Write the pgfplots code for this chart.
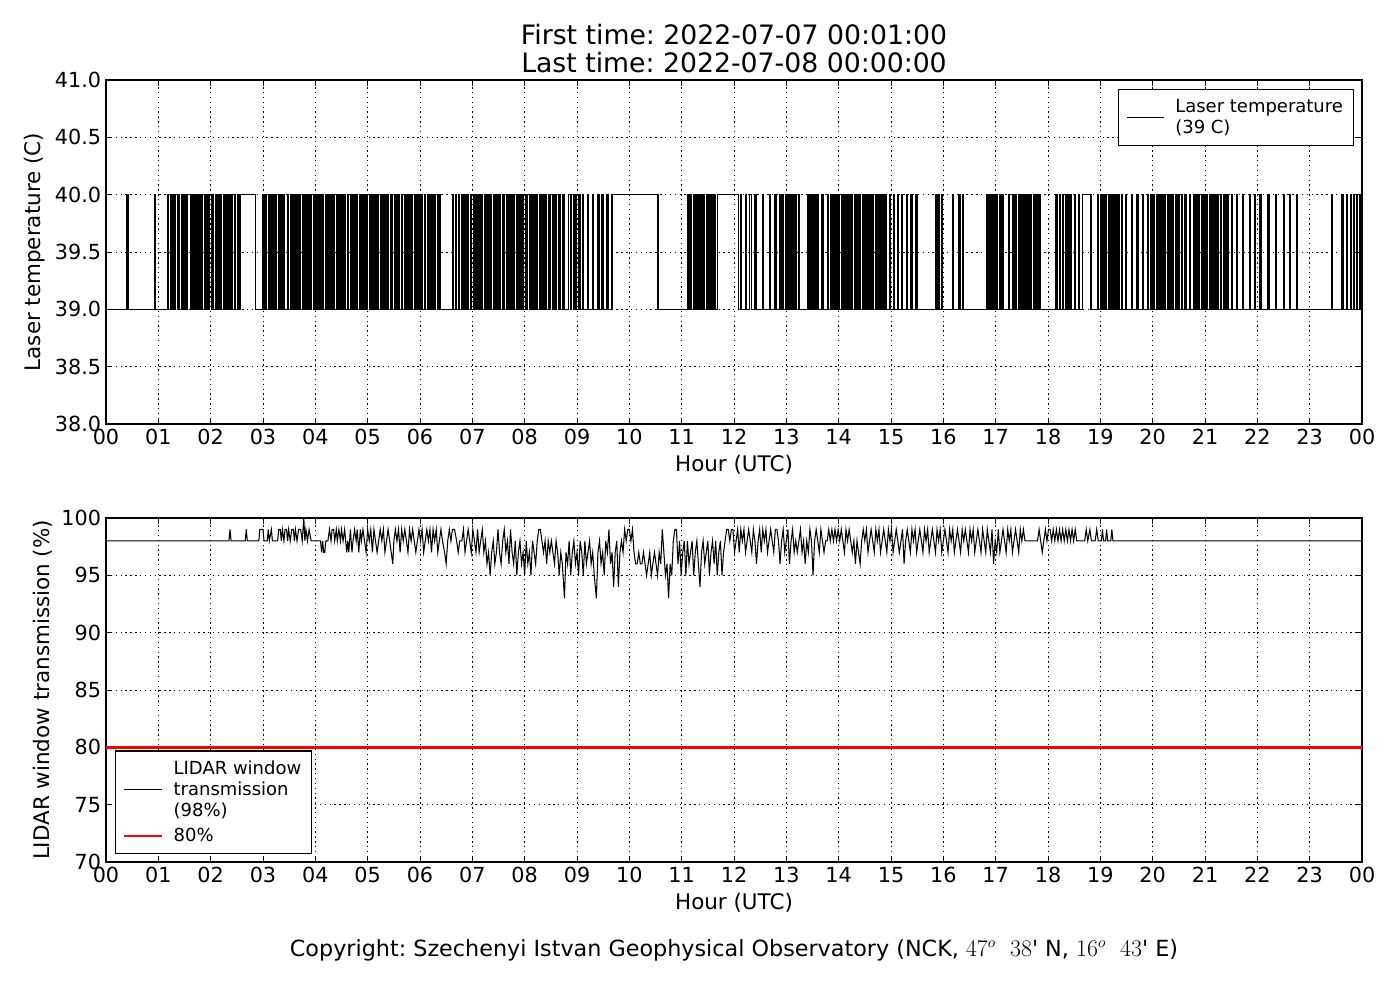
\documentclass[border=0pt]{standalone}
\usepackage{fontspec}
\setmainfont{DejaVu Sans}[Ligatures=TeXOff]
\usepackage{pgfplots}
\pgfplotsset{compat=1.18}
\frenchspacing
\begin{document}
\begin{tikzpicture}
\path[use as bounding box] (0,0) rectangle (1008bp,720bp);
\pgfplotsset{
 common/.style={
  scale only axis, width=904.32bp, height=247.68bp, anchor=south west,
  xmin=0, xmax=24, xtick={0,...,24},
  xticklabels={00,01,02,03,04,05,06,07,08,09,10,11,12,13,14,15,16,17,18,19,20,21,22,23,00},
  grid=major, major grid style={black, line width=0.5bp, dash pattern=on 1bp off 2.5bp},
  tick align=inside, tick pos=both, major tick length=4.5bp, tick style={black, line width=0.7bp},
  axis line style={line width=1bp},
  /pgf/number format/assume math mode=true,
  tick label style={font=\fontsize{15}{18}\selectfont},
  label style={font=\fontsize{15.5}{18}\selectfont},
  xlabel={Hour (UTC)},
  xlabel style={at={(axis description cs:0.5,0)}, anchor=center, yshift=-29.5bp},
  legend style={draw=black, line width=0.8bp, font=\fontsize{13}{15.2}\selectfont, cells={align=left},
    inner xsep=5.5bp, inner ysep=5bp, /tikz/every odd column/.append style={column sep=5.5bp}},
  legend cell align=left,
  legend image code/.code={\draw[##1] (0bp,0bp) -- (27bp,0bp);},
 }
}
\node[align=center, font=\fontsize{19.3}{20.2}\selectfont] at (528.5bp,684.7bp) {First time: 2022-07-07 00:01:00\\Last time: 2022-07-08 00:00:00};
\node[font=\fontsize{16.1}{18}\selectfont] at (528.5bp,36bp) {Copyright: Szechenyi Istvan Geophysical Observatory (NCK, $47^o$\ \ $38$' N, $16^o$\ \ $43$' E)};
\begin{axis}[common, at={(76.32bp,414.72bp)},
  ymin=38, ymax=41, ytick={38,38.5,...,41},
  yticklabel style={/pgf/number format/.cd, fixed, fixed zerofill, precision=1},
  ylabel={Laser temperature (C)},
  ylabel style={at={(axis description cs:-0.0565,0.5)}, anchor=center},
  legend style={at={(axis description cs:1,1)}, anchor=north east, xshift=-5.8bp, yshift=-6.5bp},
]
\addplot[black, line width=0.95bp, const plot] coordinates {
(0,39)(0.40,40)(0.42,39)(0.93,40)(0.95,39)
(1.17,40)(1.19,39)(1.23,40)(1.25,39)(1.28,40)(1.31,39)(1.33,40)(1.36,39)(1.38,40)(1.40,39)(1.44,40)(1.47,39)(1.49,40)(1.51,39)(1.55,40)(1.62,39)(1.64,40)(1.66,39)(1.69,40)(1.71,39)(1.73,40)(1.76,39)(1.78,40)(1.80,39)(1.83,40)(1.85,39)(1.88,40)(1.90,39)(1.92,40)(1.95,39)(1.98,40)(2.02,39)(2.04,40)(2.06,39)(2.09,40)(2.11,39)(2.14,40)(2.16,39)(2.19,40)(2.21,39)(2.24,40)(2.27,39)(2.29,40)(2.32,39)(2.35,40)(2.37,39)(2.40,40)(2.42,39)(2.46,40)(2.48,39)(2.51,40)(2.53,39)(2.56,40)(2.86,39)
(3.00,40)(3.02,39)(3.05,40)(3.07,39)(3.10,40)(3.13,39)(3.15,40)(3.18,39)(3.21,40)(3.23,39)(3.26,40)(3.29,39)(3.31,40)(3.33,39)(3.36,40)(3.40,39)(3.47,40)(3.49,39)(3.52,40)(3.54,39)(3.57,40)(3.59,39)(3.62,40)(3.64,39)(3.67,40)(3.70,39)(3.72,40)(3.75,39)(3.78,40)(3.80,39)(3.83,40)(3.85,39)(3.88,40)(3.91,39)(3.93,40)(3.96,39)(3.98,40)(4.01,39)(4.03,40)(4.06,39)(4.09,40)(4.11,39)(4.14,40)(4.16,39)(4.19,40)(4.21,39)(4.24,40)(4.27,39)(4.29,40)(4.32,39)(4.35,40)(4.37,39)(4.40,40)(4.43,39)(4.45,40)(4.48,39)(4.51,40)(4.53,39)(4.56,40)(4.58,39)(4.62,40)(4.64,39)(4.67,40)(4.70,39)(4.73,40)(4.75,39)(4.78,40)(4.80,39)(4.84,40)(4.86,39)(4.89,40)(4.92,39)(4.94,40)(4.97,39)
(5.00,40)(5.03,39)(5.05,40)(5.08,39)(5.10,40)(5.13,39)(5.16,40)(5.18,39)(5.21,40)(5.24,39)(5.26,40)(5.29,39)(5.32,40)(5.34,39)(5.37,40)(5.40,39)(5.43,40)(5.45,39)(5.48,40)(5.51,39)(5.53,40)(5.56,39)(5.59,40)(5.61,39)(5.64,40)(5.67,39)(5.70,40)(5.72,39)(5.75,40)(5.78,39)(5.81,40)(5.83,39)(5.86,40)(5.89,39)(5.92,40)(5.94,39)(5.97,40)(6.00,39)(6.03,40)(6.05,39)(6.08,40)(6.11,39)(6.14,40)(6.16,39)(6.19,40)(6.22,39)(6.25,40)(6.27,39)(6.30,40)(6.33,39)(6.36,40)(6.38,39)(6.62,40)(6.64,39)(6.68,40)(6.70,39)(6.74,40)(6.76,39)(6.80,40)(6.82,39)(6.86,40)(6.88,39)(6.91,40)(6.93,39)(6.97,40)(6.99,39)
(7.02,40)(7.04,39)(7.07,40)(7.10,39)(7.13,40)(7.15,39)(7.18,40)(7.20,39)(7.23,40)(7.26,39)(7.29,40)(7.32,39)(7.35,40)(7.37,39)(7.40,40)(7.43,39)(7.46,40)(7.48,39)(7.51,40)(7.54,39)(7.57,40)(7.59,39)(7.62,40)(7.65,39)(7.68,40)(7.70,39)(7.73,40)(7.76,39)(7.79,40)(7.81,39)(7.84,40)(7.87,39)(7.90,40)(7.92,39)(7.95,40)(7.98,39)(8.01,40)(8.03,39)(8.06,40)(8.09,39)(8.12,40)(8.14,39)(8.17,40)(8.20,39)(8.23,40)(8.25,39)(8.28,40)(8.31,39)(8.34,40)(8.36,39)(8.39,40)(8.42,39)(8.45,40)(8.47,39)(8.50,40)(8.53,39)(8.56,40)(8.58,39)(8.61,40)(8.64,39)(8.67,40)(8.69,39)(8.72,40)(8.75,39)
(8.84,40)(8.87,39)(8.90,40)(8.93,39)(8.96,40)(8.99,39)(9.03,40)(9.06,39)(9.10,40)(9.13,39)(9.20,40)(9.22,39)(9.30,40)(9.32,39)(9.40,40)(9.42,39)(9.48,40)(9.50,39)(9.57,40)(9.59,39)(9.67,40)(10.55,39)
(11.12,40)(11.14,39)(11.17,40)(11.19,39)(11.22,40)(11.24,39)(11.27,40)(11.29,39)(11.32,40)(11.34,39)(11.37,40)(11.39,39)(11.42,40)(11.44,39)(11.47,40)(11.49,39)(11.52,40)(11.54,39)(11.57,40)(11.59,39)(11.62,40)(11.64,39)(11.68,40)(12.08,39)
(12.12,40)(12.14,39)(12.22,40)(12.24,39)(12.30,40)(12.33,39)(12.40,40)(12.42,39)(12.55,40)(12.57,39)(12.68,40)(12.70,39)(12.78,40)(12.80,39)(12.88,40)(12.90,39)(12.93,40)(12.95,39)(12.98,40)(13.00,39)(13.03,40)(13.05,39)(13.08,40)(13.10,39)(13.13,40)(13.15,39)(13.18,40)(13.20,39)(13.23,40)(13.25,39)(13.40,40)(13.42,39)(13.45,40)(13.47,39)(13.50,40)(13.52,39)(13.55,40)(13.57,39)(13.60,40)(13.62,39)(13.68,40)(13.70,39)(13.78,40)(13.80,39)(13.85,40)(13.87,39)(13.90,40)(13.92,39)(13.95,40)(13.97,39)
(14.00,40)(14.02,39)(14.05,40)(14.07,39)(14.10,40)(14.12,39)(14.15,40)(14.17,39)(14.20,40)(14.22,39)(14.25,40)(14.27,39)(14.30,40)(14.32,39)(14.35,40)(14.37,39)(14.40,40)(14.42,39)(14.45,40)(14.47,39)(14.50,40)(14.52,39)(14.55,40)(14.57,39)(14.60,40)(14.62,39)(14.65,40)(14.67,39)(14.70,40)(14.72,39)(14.75,40)(14.77,39)(14.80,40)(14.82,39)(14.85,40)(14.87,39)(14.90,40)(14.92,39)(14.97,40)(14.99,39)(15.05,40)(15.07,39)(15.12,40)(15.14,39)(15.20,40)(15.22,39)(15.30,40)(15.32,39)(15.38,40)(15.40,39)(15.48,40)(15.50,39)
(15.85,40)(15.87,39)(15.90,40)(15.92,39)(15.96,40)(15.98,39)(16.18,40)(16.20,39)(16.30,40)(16.32,39)(16.36,40)(16.38,39)(16.82,40)(16.84,39)(16.87,40)(16.89,39)(16.92,40)(16.94,39)(16.97,40)(16.99,39)(17.02,40)(17.04,39)(17.07,40)(17.09,39)(17.12,40)(17.14,39)(17.25,40)(17.27,39)(17.33,40)(17.35,39)(17.38,40)(17.40,39)(17.43,40)(17.45,39)(17.48,40)(17.50,39)(17.52,40)(17.54,39)(17.57,40)(17.59,39)(17.62,40)(17.64,39)(17.67,40)(17.69,39)(17.72,40)(17.74,39)(17.77,40)(17.79,39)(17.83,40)(17.85,39)
(18.15,40)(18.17,39)(18.22,40)(18.24,39)(18.28,40)(18.30,39)(18.33,40)(18.35,39)(18.38,40)(18.40,39)(18.43,40)(18.45,39)(18.50,40)(18.52,39)(18.58,40)(18.60,39)(18.66,40)(18.82,39)(18.95,40)(18.97,39)(19.00,40)(19.02,39)(19.05,40)(19.07,39)(19.10,40)(19.12,39)(19.15,40)(19.17,39)(19.20,40)(19.22,39)(19.25,40)(19.27,39)(19.30,40)(19.32,39)(19.35,40)(19.37,39)(19.40,40)(19.42,39)(19.48,40)(19.50,39)(19.60,40)(19.62,39)(19.70,40)(19.72,39)(19.80,40)(19.82,39)(19.90,40)(19.92,39)(19.97,40)(19.99,39)
(20.02,40)(20.04,39)(20.08,40)(20.10,39)(20.13,40)(20.15,39)(20.18,40)(20.20,39)(20.23,40)(20.25,39)(20.28,40)(20.30,39)(20.33,40)(20.35,39)(20.38,40)(20.40,39)(20.43,40)(20.45,39)(20.48,40)(20.50,39)(20.55,40)(20.57,39)(20.62,40)(20.64,39)(20.70,40)(20.72,39)(20.78,40)(20.80,39)(20.83,40)(20.85,39)(20.88,40)(20.90,39)(20.93,40)(20.95,39)(20.98,40)(21.00,39)(21.03,40)(21.05,39)(21.08,40)(21.10,39)(21.13,40)(21.15,39)(21.18,40)(21.20,39)(21.23,40)(21.25,39)(21.30,40)(21.32,39)(21.36,40)(21.38,39)(21.42,40)(21.44,39)(21.50,40)(21.52,39)(21.60,40)(21.62,39)(21.72,40)(21.74,39)(21.85,40)(21.87,39)(21.95,40)(21.97,39)
(22.05,40)(22.07,39)(22.20,40)(22.22,39)(22.35,40)(22.37,39)(22.50,40)(22.52,39)(22.62,40)(22.64,39)(22.75,40)(22.77,39)(23.42,40)(23.44,39)(23.62,40)(23.64,39)(23.70,40)(23.72,39)(23.78,40)(23.80,39)(23.84,40)(23.86,39)(23.90,40)(23.92,39)(23.95,40)(23.97,39)(24,39)
};
\addlegendentry{Laser temperature\\(39 C)}
\end{axis}
\begin{axis}[common, at={(76.32bp,99.36bp)},
  ymin=70, ymax=100, ytick={70,75,...,100},
  ylabel={LIDAR window transmission (\%)},
  ylabel style={at={(axis description cs:-0.0502,0.5)}, anchor=center},
  legend style={at={(axis description cs:0,0)}, anchor=south west, xshift=6.5bp, yshift=5.8bp, row sep=3bp},
]
\addplot[black, line width=0.75bp] coordinates {
(0,98)(2.35,98)(2.37,99)(2.39,98)(2.66,98)(2.68,99)(2.70,98)(2.92,98)(2.94,99)(3.00,99)(3.02,98)(3.08,98)(3.10,99)(3.12,98)(3.16,99)(3.18,98)(3.28,98)(3.30,99)(3.33,99)(3.35,98)(3.37,99)(3.40,98)(3.42,99)(3.45,99)(3.47,98)(3.49,99)(3.52,98)(3.55,99)(3.58,99)(3.60,98)(3.62,99)(3.65,98)(3.68,99)(3.72,99)(3.75,98)(3.78,100)(3.80,98)(3.82,99)(3.85,98)(3.88,99)(3.92,98)(3.96,98)
(4.10,98)(4.12,97)(4.14,98)(4.16,97)(4.18,97)(4.20,98)(4.24,98)(4.27,99)(4.30,98)(4.32,99)(4.35,99)(4.37,98)(4.40,99)(4.42,98)(4.45,99)(4.48,98)(4.50,99)(4.53,98)(4.56,99)(4.60,97)(4.62,98)(4.64,97)(4.67,99)(4.70,97)(4.72,98)(4.75,99)(4.78,98)(4.80,99)(4.83,97)(4.86,99)(4.88,98)(4.91,99)(4.94,98)(4.97,97)
(5.00,99)(5.03,98)(5.06,99)(5.09,97)(5.12,99)(5.15,98)(5.18,97)(5.21,98)(5.24,99)(5.27,98)(5.30,99)(5.33,97)(5.36,98)(5.39,99)(5.42,98)(5.45,97)(5.48,96)(5.50,98)(5.53,99)(5.56,98)(5.59,99)(5.62,97)(5.65,99)(5.68,98)(5.71,99)(5.74,98)(5.77,97)(5.80,99)(5.83,98)(5.86,99)(5.89,98)(5.92,97)(5.95,98)(5.98,99)
(6.01,98)(6.04,99)(6.07,97)(6.10,98)(6.13,99)(6.16,98)(6.19,99)(6.22,97)(6.25,99)(6.28,98)(6.31,99)(6.34,97)(6.37,98)(6.40,99)(6.43,98)(6.47,97)(6.50,96)(6.53,98)(6.56,99)(6.59,98)(6.62,99)(6.66,99)(6.70,98)(6.73,97)(6.76,98)(6.80,98)(6.83,99)(6.86,97)(6.89,98)(6.92,99)(6.95,98)(6.98,97)
(7.01,99)(7.04,98)(7.07,97)(7.10,99)(7.13,97)(7.16,98)(7.19,99)(7.22,97)(7.25,98)(7.28,96)(7.31,97)(7.34,95)(7.37,97)(7.40,98)(7.43,96)(7.46,97)(7.49,99)(7.52,97)(7.55,96)(7.58,98)(7.61,99)(7.64,97)(7.67,98)(7.70,96)(7.73,99)(7.76,97)(7.79,96)(7.82,98)(7.85,95)(7.88,97)(7.91,98)(7.94,96)(7.97,97)
(8.00,95)(8.03,98)(8.06,96)(8.09,97)(8.12,95)(8.15,98)(8.18,97)(8.21,96)(8.24,98)(8.27,99)(8.30,99)(8.33,98)(8.36,97)(8.39,98)(8.42,96)(8.45,98)(8.48,97)(8.51,98)(8.54,97)(8.57,96)(8.60,98)(8.63,97)(8.66,95)(8.69,97)(8.72,96)(8.76,93)(8.79,97)(8.82,96)(8.85,98)(8.88,95)(8.91,97)(8.94,98)(8.97,96)
(9.00,97)(9.03,95)(9.06,98)(9.09,97)(9.12,95)(9.15,98)(9.18,96)(9.21,97)(9.24,98)(9.27,96)(9.30,97)(9.33,95)(9.37,93)(9.40,97)(9.43,98)(9.46,96)(9.49,97)(9.52,95)(9.55,98)(9.58,97)(9.61,99)(9.64,96)(9.67,97)(9.70,94)(9.73,97)(9.76,98)(9.79,94)(9.82,97)(9.85,98)(9.88,97)(9.91,99)(9.94,98)(9.97,99)
(10.00,99)(10.03,98)(10.06,99)(10.09,97)(10.12,96)(10.15,96)(10.18,97)(10.21,96)(10.24,96)(10.27,97)(10.30,96)(10.33,95)(10.36,96)(10.39,97)(10.42,95)(10.45,96)(10.48,97)(10.51,96)(10.54,95)(10.57,97)(10.60,96)(10.63,99)(10.66,97)(10.69,95)(10.72,96)(10.75,93)(10.78,96)(10.81,95)(10.84,98)(10.87,99)(10.90,99)(10.93,96)(10.96,98)(10.99,95)
(11.02,97)(11.05,98)(11.08,95)(11.11,98)(11.14,96)(11.17,97)(11.20,98)(11.23,95)(11.26,97)(11.29,98)(11.32,96)(11.35,94)(11.38,97)(11.41,98)(11.44,96)(11.47,97)(11.50,98)(11.53,95)(11.56,97)(11.59,98)(11.62,96)(11.65,98)(11.68,95)(11.71,97)(11.74,98)(11.77,95)(11.80,97)(11.83,98)(11.86,99)(11.89,99)(11.92,98)(11.95,99)(11.98,99)
(12.01,97)(12.04,98)(12.07,99)(12.10,97)(12.13,99)(12.16,98)(12.19,99)(12.22,97)(12.25,98)(12.28,99)(12.31,98)(12.34,97)(12.37,99)(12.40,98)(12.43,96)(12.46,98)(12.49,99)(12.52,97)(12.55,99)(12.58,98)(12.61,99)(12.64,97)(12.67,98)(12.70,99)(12.73,98)(12.76,97)(12.79,99)(12.82,99)(12.85,98)(12.88,96)(12.91,98)(12.94,99)(12.97,97)
(13.00,98)(13.03,99)(13.06,96)(13.09,98)(13.12,99)(13.15,97)(13.18,98)(13.21,97)(13.24,98)(13.27,99)(13.30,97)(13.33,98)(13.36,96)(13.39,98)(13.42,97)(13.45,99)(13.48,98)(13.51,95)(13.54,98)(13.57,99)(13.60,98)(13.63,97)(13.66,99)(13.69,98)(13.72,97)(13.75,98)(13.78,98)(13.81,99)(13.84,98)(13.87,99)(13.90,98)(13.93,99)(13.96,98)(13.99,99)
(14.02,98)(14.05,99)(14.08,98)(14.11,97)(14.14,99)(14.17,98)(14.20,99)(14.23,98)(14.26,97)(14.29,98)(14.32,96)(14.35,98)(14.38,97)(14.41,96)(14.44,98)(14.47,99)(14.50,98)(14.53,99)(14.56,97)(14.59,98)(14.62,99)(14.65,98)(14.68,97)(14.71,99)(14.74,98)(14.77,99)(14.80,97)(14.83,98)(14.86,99)(14.89,98)(14.92,97)(14.95,99)(14.98,98)
(15.01,99)(15.04,97)(15.07,98)(15.10,99)(15.13,98)(15.16,97)(15.19,98)(15.22,99)(15.25,96)(15.28,98)(15.31,99)(15.34,98)(15.37,97)(15.40,99)(15.43,98)(15.46,99)(15.49,97)(15.52,98)(15.55,99)(15.58,98)(15.61,97)(15.64,99)(15.67,98)(15.70,99)(15.73,97)(15.76,98)(15.79,99)(15.82,98)(15.85,97)(15.88,99)(15.91,98)(15.94,99)(15.97,97)
(16.00,98)(16.03,99)(16.06,98)(16.09,97)(16.12,99)(16.15,98)(16.18,99)(16.21,97)(16.24,98)(16.27,99)(16.30,98)(16.33,97)(16.36,99)(16.39,98)(16.42,99)(16.45,98)(16.48,97)(16.51,99)(16.54,98)(16.57,99)(16.60,97)(16.63,98)(16.66,99)(16.69,98)(16.72,97)(16.75,99)(16.78,98)(16.81,97)(16.84,99)(16.87,98)(16.90,97)(16.93,99)(16.96,96)(16.99,98)
(17.02,97)(17.05,99)(17.08,97)(17.11,98)(17.14,99)(17.17,98)(17.20,97)(17.23,99)(17.26,98)(17.29,99)(17.32,97)(17.35,98)(17.38,99)(17.41,98)(17.44,97)(17.47,99)(17.50,98)(17.53,99)(17.56,98)(17.60,98)(17.80,98)(17.83,99)(17.86,98)(17.89,97)(17.92,98)(17.95,99)(17.98,98)
(18.01,99)(18.04,99)(18.07,98)(18.10,99)(18.13,98)(18.16,99)(18.19,98)(18.22,99)(18.25,98)(18.28,99)(18.31,98)(18.34,99)(18.37,98)(18.40,99)(18.43,98)(18.46,99)(18.49,98)(18.52,99)(18.55,98)(18.60,98)(18.70,98)(18.73,99)(18.76,98)(18.80,99)(18.83,98)(18.90,98)(18.93,99)(18.96,98)
(19.02,98)(19.04,99)(19.06,98)(19.10,98)(19.12,99)(19.14,98)(19.20,98)(19.22,99)(19.24,98)(24,98)
};
\addlegendentry{LIDAR window\\transmission\\(98\%)}
\addplot[red, line width=1.8bp] coordinates {(0,80)(24,80)};
\addlegendentry{80\%}
\end{axis}
\end{tikzpicture}
\end{document}
